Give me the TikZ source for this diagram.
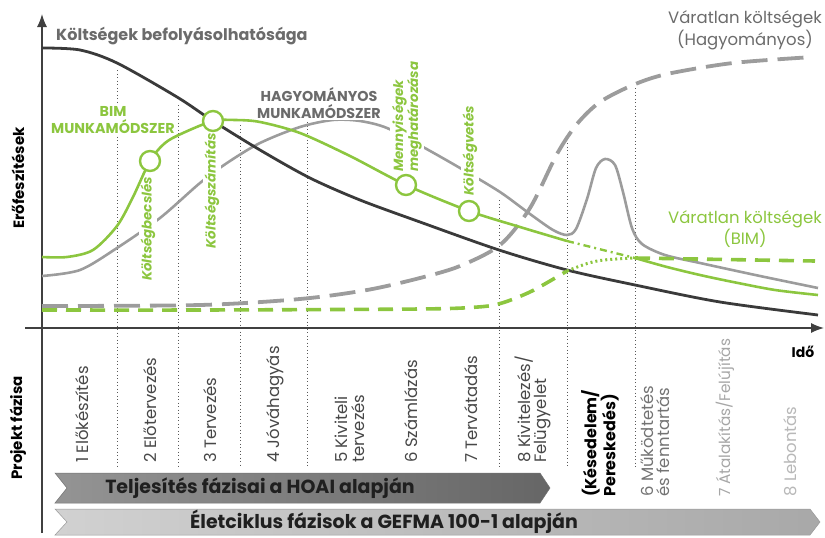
\documentclass[tikz,border=0pt]{standalone}
\usepackage{fontspec}
\setmainfont{Poppins}
\usepackage{tikz}
\usetikzlibrary{calc,arrows.meta,positioning}

\definecolor{bimgreen}{HTML}{8CC63F}
\definecolor{hagygray}{HTML}{9C9C9C}
\definecolor{infldark}{HTML}{3A3A3A}
\definecolor{titlegray}{HTML}{6B6B6B}

\tikzset{
  phasesep/.style={black!65, line width=0.8pt, dash pattern=on 1.3pt off 2.2pt},
  axisline/.style={black!75, line width=1.4pt},
  inflline/.style={infldark, line width=2.8pt},
  hagyline/.style={hagygray, line width=2.6pt},
  bimline/.style={bimgreen, line width=2.6pt},
  hagyrisk/.style={hagygray, line width=3.8pt, dash pattern=on 26pt off 10pt},
  bimrisk/.style={bimgreen, line width=3.6pt, dash pattern=on 15pt off 9pt},
  milestone/.style={circle, draw=bimgreen, fill=white, line width=2.4pt, minimum size=20pt, inner sep=0pt},
  greentag/.style={rotate=90, fill=white, inner sep=2pt, align=left, text=bimgreen,
    font=\bfseries\itshape\fontsize{13.3}{15}\selectfont},
  methodtag/.style={align=center, fill=white, inner sep=1pt, font=\bfseries\fontsize{14.3}{17}\selectfont},
  stepname/.style={rotate=90, anchor=west, align=left, inner sep=0pt, text=black!72,
    font=\fontsize{16.5}{16.5}\selectfont},
  axistitle/.style={rotate=90, inner sep=0pt, font=\bfseries\fontsize{15}{15}\selectfont},
  bandtext/.style={inner sep=0pt, text=black!88, font=\bfseries\fontsize{19}{19}\selectfont},
}

\begin{document}
\begin{tikzpicture}[x=1pt,y=-1pt]
  \useasboundingbox (0,0) rectangle (825,538);

  % phase separators
  \foreach \x/\top in {117/70,178/105,240/125,307/122,499/200,567/143,635/88}
    \draw[phasesep] (\x,\top) -- (\x,467);

  % axes
  \coordinate (ybot) at (42,533); \coordinate (ytop) at (42,14);
  \coordinate (xleft) at (25,328); \coordinate (xright) at (824,328);
  \draw[axisline,-{Latex[length=13pt,width=10pt]}] (ybot) -- (ytop);
  \draw[axisline,-{Latex[length=13pt,width=10pt]}] (xleft) -- (xright);

  % unexpected costs, traditional
  \draw[hagyrisk] plot[smooth] coordinates {(42,306) (200,305) (300,299) (367,290)
    (420,278) (460,266) (500,245) (530,208) (557,154) (577,124) (600,102) (633,85)
    (667,74) (733,63) (813,57)};

  % traditional method
  \draw[hagyline] plot[smooth] coordinates {(42,276) (80,270) (117,248) (160,218)
    (200,183) (227,163) (260,143) (300,127) (333,120) (360,121) (387,128) (423,147)
    (460,168) (500,192) (530,214) (553,230) (567,235) (576,229) (587,199) (596,168)
    (605,159) (615,165) (623,192) (632,228) (642,244) (665,255) (700,263) (760,276)
    (818,288)};

  % labels on the curves
  \node[greentag] (becsles) at (148,229) {Költségbecslés};
  \node[greentag] (szamitas) at (212,191) {Költségszámítás};
  \node[greentag,anchor=west] (mennyiseg) at (407,174) {Mennyiségek\\meghatározása};
  \node[greentag] (vetes) at (470,151) {Költségvetés};

  % influence on costs
  \draw[inflline] plot[smooth] coordinates {(42,48) (80,50) (117,63) (177,97)
    (213,121) (260,150) (310,178) (360,200) (420,222) (499,250) (567,270) (635,285)
    (720,302) (818,315)};

  % BIM method
  \draw[bimline] plot[smooth] coordinates {(42,257) (67,257) (93,250) (117,226)
    (133,197) (150,161) (165,143) (183,133) (213,121) (235,120) (260,122) (300,133)
    (350,156) (406,185) (469,211) (520,227) (567,241)};
  \draw[bimline,line width=2.4pt,dash pattern=on 7pt off 4pt on 2pt off 4pt]
    (567,241) .. controls (595,248) .. (635,258);
  \draw[bimline] plot[smooth] coordinates {(635,258) (667,267) (700,275) (733,282)
    (775,290) (818,295)};

  % unexpected costs, BIM
  \draw[bimrisk] plot[smooth] coordinates {(42,310) (200,310) (420,309) (478,307)
    (502,303) (532,291) (567,271)};
  \draw[bimgreen,line width=3pt,dash pattern=on 2pt off 3pt]
    (567,271) .. controls (595,260) .. (635,258);
  \draw[bimrisk] (635,258) -- (815,261);

  % milestones
  \node[milestone] (m1) at (150,161) {};
  \node[milestone] (m2) at (213,121) {};
  \node[milestone] (m3) at (406,185) {};
  \node[milestone] (m4) at (469,211) {};

  % titles
  \node[anchor=west,inner sep=0pt,text=titlegray,font=\bfseries\fontsize{16}{16}\selectfont]
    (infltitle) at (56,36) {Költségek befolyásolhatósága};
  \node[methodtag,text=titlegray] (hagymethod) at (319,103) {HAGYOMÁNYOS\\MUNKAMÓDSZER};
  \node[methodtag,text=bimgreen] (bimmethod) at (113,120) {BIM\\MUNKAMÓDSZER};
  \node[align=center,inner sep=0pt,text=titlegray,font=\fontsize{16.5}{22}\selectfont]
    (hagyrisktitle) at (745,30) {Váratlan költségek\\(Hagyományos)};
  \node[align=center,inner sep=0pt,text=bimgreen,font=\fontsize{16.5}{19}\selectfont]
    (bimrisktitle) at (745,229) {Váratlan költségek\\(BIM)};
  \node[axistitle] (effort) at (18,178) {Erőfeszítések};
  \node[axistitle] (projphase) at (18,428) {Projekt fázisa};
  \node[inner sep=0pt,font=\bfseries\fontsize{14}{14}\selectfont] (time) at (803,352) {Idő};

  % project phases
  \node[stepname] (p1) at (82,463) {1 Előkészítés};
  \node[stepname] (p2) at (150,463) {2 Előtervezés};
  \node[stepname] (p3) at (210,463) {3 Tervezés};
  \node[stepname] (p4) at (275,463) {4 Jóváhagyás};
  \node[stepname] (p5) at (350,463) {5 Kiviteli\\tervezés};
  \node[stepname] (p6) at (411,463) {6 Számlázás};
  \node[stepname] (p7) at (471,463) {7 Tervátadás};
  \node[stepname] (p8) at (533,463) {8 Kivitelezés/\\Felügyelet};
  \node[stepname,text=black,font=\bfseries\fontsize{16}{16.5}\selectfont] (delay) at (600,497) {(Késedelem/\\Pereskedés)};
  \node[stepname,text=black!55] (g6) at (655,497) {6 Működtetés\\és fenntartás};
  \node[stepname,text=black!35,font=\fontsize{15.3}{15.3}\selectfont] (g7) at (725,497) {7 Átalakítás/Felújítás};
  \node[stepname,text=black!28] (g8) at (790,497) {8 Lebontás};

  % bands
  \shade[left color=black!42,right color=black!60,draw=black!55,line width=0.5pt]
    (55,473) -- (540,473) -- (550,488) -- (540,503) -- (55,503) -- (67,488) -- cycle;
  \node[bandtext] (hoai) at (260,488) {Teljesítés fázisai a HOAI alapján};
  \shade[left color=black!18,right color=black!34,draw=black!40,line width=0.5pt]
    (55,509) -- (810,509) -- (820,522) -- (810,535) -- (55,535) -- (67,522) -- cycle;
  \node[bandtext] (gefma) at (384,522) {Életciklus fázisok a GEFMA 100-1 alapján};
\end{tikzpicture}
\end{document}
